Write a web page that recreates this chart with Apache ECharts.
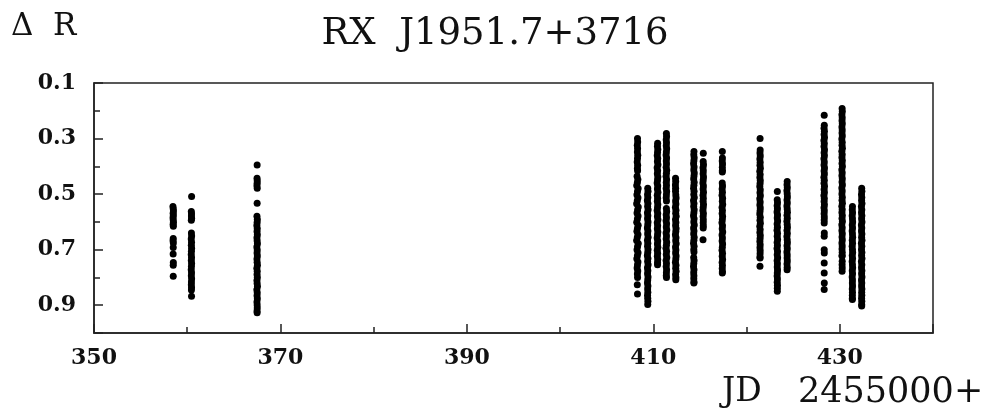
<!DOCTYPE html>
<html>
<head>
<meta charset="utf-8">
<script src="https://cdn.jsdelivr.net/npm/echarts@6/dist/echarts.min.js"></script>
<style>
  html, body { margin: 0; padding: 0; background: #fff; }
  #chart { width: 990px; height: 412px; }
</style>
</head>
<body>
<div id="chart"></div>
<script>
// Differential R photometry of RX J1951.7+3716, one array per observing night: [JD - 2455000, ΔR]
const night358 = [[358.47,0.545],[358.50,0.553],[358.52,0.561],[358.49,0.569],[358.51,0.577],[358.48,0.585],[358.50,0.593],[358.52,0.601],[358.49,0.609],[358.51,0.616],[358.50,0.660],[358.48,0.668],[358.51,0.676],[358.50,0.692],[358.49,0.716],[358.51,0.746],[358.50,0.756],[358.50,0.796]];
const night360 = [[360.47,0.509],[360.44,0.563],[360.46,0.571],[360.45,0.579],[360.47,0.587],[360.44,0.594],[360.45,0.640],[360.47,0.651],[360.43,0.662],[360.46,0.673],[360.44,0.684],[360.47,0.695],[360.45,0.706],[360.43,0.717],[360.46,0.728],[360.44,0.739],[360.47,0.750],[360.45,0.761],[360.43,0.772],[360.46,0.783],[360.44,0.794],[360.47,0.805],[360.45,0.816],[360.44,0.826],[360.46,0.836],[360.45,0.845],[360.46,0.868]];
const night367 = [[367.50,0.395],[367.49,0.443],[367.51,0.452],[367.50,0.461],[367.48,0.470],[367.51,0.479],[367.50,0.533],[367.48,0.580],[367.52,0.591],[367.50,0.602],[367.47,0.613],[367.51,0.624],[367.49,0.635],[367.52,0.646],[367.48,0.657],[367.50,0.668],[367.53,0.679],[367.47,0.690],[367.51,0.701],[367.49,0.712],[367.52,0.723],[367.48,0.734],[367.50,0.745],[367.53,0.756],[367.47,0.767],[367.51,0.778],[367.49,0.789],[367.52,0.800],[367.48,0.811],[367.50,0.822],[367.53,0.833],[367.47,0.844],[367.51,0.855],[367.49,0.866],[367.52,0.877],[367.48,0.888],[367.50,0.899],[367.51,0.910],[367.49,0.921],[367.50,0.927]];
const night408 = [[408.30,0.300],[408.32,0.312],[408.28,0.324],[408.31,0.336],[408.29,0.348],[408.33,0.360],[408.30,0.372],[408.27,0.384],[408.32,0.396],[408.29,0.408],[408.31,0.416],[408.26,0.436],[408.34,0.447],[408.29,0.458],[408.22,0.469],[408.37,0.480],[408.30,0.491],[408.24,0.502],[408.35,0.513],[408.28,0.524],[408.21,0.535],[408.38,0.546],[408.31,0.557],[408.25,0.568],[408.36,0.579],[408.29,0.590],[408.22,0.601],[408.37,0.612],[408.30,0.623],[408.24,0.634],[408.35,0.645],[408.28,0.656],[408.21,0.667],[408.38,0.678],[408.31,0.689],[408.25,0.700],[408.36,0.711],[408.29,0.722],[408.23,0.733],[408.35,0.744],[408.30,0.755],[408.26,0.766],[408.33,0.777],[408.29,0.788],[408.31,0.800],[408.28,0.826],[408.30,0.860]];
const night409 = [[409.40,0.479],[409.43,0.490],[409.38,0.501],[409.41,0.512],[409.36,0.523],[409.42,0.534],[409.39,0.545],[409.44,0.556],[409.37,0.567],[409.41,0.578],[409.38,0.589],[409.43,0.600],[409.40,0.611],[409.36,0.622],[409.42,0.633],[409.39,0.644],[409.44,0.655],[409.37,0.666],[409.41,0.677],[409.38,0.688],[409.43,0.699],[409.40,0.710],[409.36,0.721],[409.42,0.732],[409.39,0.743],[409.44,0.754],[409.37,0.765],[409.41,0.776],[409.38,0.787],[409.43,0.798],[409.40,0.809],[409.37,0.820],[409.42,0.831],[409.39,0.842],[409.41,0.853],[409.38,0.864],[409.40,0.875],[409.42,0.886],[409.40,0.897]];
const night410 = [[410.46,0.317],[410.44,0.328],[410.48,0.339],[410.45,0.350],[410.42,0.361],[410.47,0.372],[410.44,0.383],[410.49,0.394],[410.41,0.405],[410.46,0.416],[410.43,0.427],[410.48,0.438],[410.45,0.449],[410.41,0.460],[410.47,0.471],[410.44,0.482],[410.49,0.493],[410.42,0.504],[410.46,0.515],[410.43,0.526],[410.48,0.537],[410.45,0.548],[410.41,0.559],[410.47,0.570],[410.44,0.581],[410.49,0.592],[410.42,0.603],[410.46,0.614],[410.43,0.625],[410.48,0.636],[410.45,0.647],[410.41,0.658],[410.47,0.669],[410.44,0.680],[410.48,0.691],[410.42,0.702],[410.46,0.713],[410.43,0.724],[410.47,0.735],[410.45,0.746],[410.45,0.754]];
const night411 = [[411.40,0.282],[411.42,0.293],[411.38,0.304],[411.41,0.315],[411.39,0.326],[411.43,0.337],[411.40,0.348],[411.37,0.359],[411.42,0.370],[411.39,0.381],[411.41,0.392],[411.38,0.403],[411.43,0.414],[411.40,0.425],[411.37,0.436],[411.42,0.447],[411.39,0.458],[411.41,0.469],[411.38,0.480],[411.43,0.491],[411.40,0.502],[411.38,0.513],[411.41,0.525],[411.40,0.552],[411.43,0.563],[411.38,0.574],[411.41,0.585],[411.37,0.596],[411.42,0.607],[411.39,0.618],[411.44,0.629],[411.37,0.640],[411.41,0.651],[411.38,0.662],[411.43,0.673],[411.40,0.684],[411.36,0.695],[411.42,0.706],[411.39,0.717],[411.44,0.728],[411.37,0.739],[411.41,0.750],[411.38,0.761],[411.42,0.772],[411.40,0.783],[411.39,0.794],[411.41,0.800]];
const night412 = [[412.38,0.443],[412.40,0.455],[412.37,0.467],[412.39,0.479],[412.38,0.490],[412.41,0.503],[412.44,0.514],[412.39,0.525],[412.42,0.536],[412.37,0.547],[412.43,0.558],[412.40,0.569],[412.45,0.580],[412.38,0.591],[412.42,0.602],[412.39,0.613],[412.44,0.624],[412.41,0.635],[412.37,0.646],[412.43,0.657],[412.40,0.668],[412.45,0.679],[412.38,0.690],[412.42,0.701],[412.39,0.712],[412.44,0.723],[412.41,0.734],[412.37,0.745],[412.43,0.756],[412.40,0.767],[412.44,0.778],[412.39,0.789],[412.42,0.800],[412.41,0.808]];
const night414 = [[414.36,0.347],[414.34,0.358],[414.38,0.369],[414.35,0.380],[414.32,0.391],[414.37,0.402],[414.34,0.413],[414.39,0.424],[414.36,0.435],[414.33,0.446],[414.38,0.457],[414.35,0.468],[414.32,0.479],[414.37,0.490],[414.34,0.501],[414.39,0.512],[414.31,0.523],[414.36,0.534],[414.33,0.545],[414.38,0.556],[414.35,0.567],[414.31,0.578],[414.37,0.589],[414.34,0.600],[414.39,0.611],[414.32,0.622],[414.36,0.633],[414.33,0.644],[414.38,0.655],[414.35,0.666],[414.31,0.677],[414.37,0.688],[414.34,0.699],[414.36,0.708],[414.33,0.728],[414.37,0.739],[414.34,0.750],[414.31,0.761],[414.36,0.772],[414.33,0.783],[414.35,0.794],[414.34,0.805],[414.36,0.816],[414.35,0.820]];
const night415 = [[415.36,0.353],[415.35,0.383],[415.38,0.394],[415.33,0.405],[415.36,0.416],[415.34,0.427],[415.38,0.438],[415.35,0.449],[415.32,0.460],[415.37,0.471],[415.34,0.482],[415.38,0.493],[415.33,0.504],[415.36,0.515],[415.34,0.526],[415.38,0.537],[415.35,0.548],[415.32,0.559],[415.37,0.570],[415.34,0.581],[415.36,0.592],[415.35,0.603],[415.36,0.614],[415.35,0.622],[415.33,0.664]];
const night417 = [[417.40,0.347],[417.41,0.370],[417.39,0.381],[417.42,0.392],[417.40,0.403],[417.41,0.414],[417.40,0.420],[417.39,0.460],[417.42,0.471],[417.38,0.482],[417.41,0.493],[417.37,0.504],[417.43,0.515],[417.40,0.526],[417.44,0.537],[417.37,0.548],[417.41,0.559],[417.38,0.570],[417.43,0.581],[417.40,0.592],[417.36,0.603],[417.42,0.614],[417.39,0.625],[417.44,0.636],[417.37,0.647],[417.41,0.658],[417.38,0.669],[417.43,0.680],[417.40,0.691],[417.37,0.702],[417.42,0.713],[417.39,0.724],[417.43,0.735],[417.38,0.746],[417.41,0.757],[417.39,0.768],[417.41,0.779],[417.40,0.784]];
const night421 = [[421.45,0.300],[421.46,0.341],[421.44,0.352],[421.47,0.363],[421.43,0.374],[421.46,0.385],[421.44,0.396],[421.48,0.407],[421.42,0.418],[421.46,0.429],[421.43,0.440],[421.47,0.451],[421.45,0.462],[421.42,0.473],[421.47,0.484],[421.44,0.495],[421.48,0.506],[421.42,0.517],[421.46,0.528],[421.43,0.539],[421.47,0.550],[421.45,0.561],[421.42,0.572],[421.47,0.583],[421.44,0.594],[421.48,0.605],[421.42,0.616],[421.46,0.627],[421.43,0.638],[421.47,0.649],[421.45,0.660],[421.43,0.671],[421.46,0.682],[421.44,0.693],[421.46,0.704],[421.45,0.715],[421.44,0.726],[421.45,0.730],[421.44,0.760]];
const night423 = [[423.30,0.491],[423.29,0.520],[423.32,0.531],[423.28,0.542],[423.31,0.553],[423.27,0.564],[423.32,0.575],[423.29,0.586],[423.33,0.597],[423.28,0.608],[423.31,0.619],[423.27,0.630],[423.32,0.641],[423.29,0.652],[423.33,0.663],[423.28,0.674],[423.31,0.685],[423.27,0.696],[423.32,0.707],[423.29,0.718],[423.33,0.729],[423.28,0.740],[423.31,0.751],[423.29,0.762],[423.32,0.773],[423.30,0.784],[423.28,0.795],[423.31,0.806],[423.29,0.817],[423.31,0.828],[423.30,0.839],[423.30,0.850]];
const night424 = [[424.36,0.455],[424.34,0.466],[424.37,0.477],[424.33,0.488],[424.36,0.499],[424.38,0.510],[424.34,0.521],[424.37,0.532],[424.33,0.543],[424.36,0.554],[424.38,0.565],[424.34,0.576],[424.37,0.587],[424.33,0.598],[424.36,0.609],[424.38,0.620],[424.34,0.631],[424.37,0.642],[424.33,0.653],[424.36,0.664],[424.38,0.675],[424.34,0.686],[424.37,0.697],[424.33,0.708],[424.36,0.719],[424.35,0.730],[424.37,0.741],[424.34,0.752],[424.36,0.763],[424.35,0.772]];
const night428 = [[428.33,0.216],[428.34,0.252],[428.31,0.263],[428.35,0.274],[428.32,0.285],[428.36,0.296],[428.30,0.307],[428.34,0.318],[428.31,0.329],[428.36,0.340],[428.32,0.351],[428.35,0.362],[428.30,0.373],[428.34,0.384],[428.31,0.395],[428.36,0.406],[428.32,0.417],[428.35,0.428],[428.30,0.439],[428.34,0.450],[428.31,0.461],[428.36,0.472],[428.32,0.483],[428.35,0.494],[428.30,0.505],[428.34,0.516],[428.32,0.527],[428.35,0.538],[428.31,0.549],[428.34,0.560],[428.32,0.571],[428.34,0.582],[428.33,0.593],[428.33,0.604],[428.34,0.640],[428.33,0.652],[428.33,0.700],[428.34,0.712],[428.33,0.748],[428.33,0.784],[428.34,0.820],[428.33,0.843]];
const night430 = [[430.25,0.192],[430.27,0.203],[430.23,0.214],[430.26,0.225],[430.24,0.236],[430.27,0.247],[430.23,0.258],[430.26,0.269],[430.24,0.280],[430.27,0.291],[430.22,0.302],[430.26,0.313],[430.24,0.324],[430.28,0.335],[430.22,0.346],[430.26,0.357],[430.23,0.368],[430.27,0.379],[430.24,0.390],[430.28,0.401],[430.22,0.412],[430.26,0.423],[430.23,0.434],[430.27,0.445],[430.24,0.456],[430.28,0.467],[430.22,0.478],[430.26,0.489],[430.23,0.500],[430.27,0.511],[430.24,0.522],[430.28,0.533],[430.22,0.544],[430.26,0.555],[430.23,0.566],[430.27,0.577],[430.24,0.588],[430.28,0.599],[430.22,0.610],[430.26,0.621],[430.23,0.632],[430.27,0.643],[430.24,0.654],[430.27,0.665],[430.23,0.676],[430.26,0.687],[430.24,0.698],[430.26,0.709],[430.25,0.720],[430.25,0.724],[430.26,0.742],[430.25,0.754],[430.26,0.766],[430.25,0.778]];
const night431 = [[431.36,0.545],[431.34,0.556],[431.37,0.567],[431.33,0.578],[431.36,0.589],[431.38,0.600],[431.34,0.611],[431.37,0.622],[431.33,0.633],[431.36,0.644],[431.38,0.655],[431.34,0.666],[431.37,0.677],[431.33,0.688],[431.36,0.699],[431.38,0.710],[431.34,0.721],[431.37,0.732],[431.33,0.743],[431.36,0.754],[431.38,0.765],[431.34,0.776],[431.37,0.787],[431.33,0.798],[431.36,0.809],[431.35,0.820],[431.37,0.831],[431.34,0.842],[431.36,0.853],[431.35,0.864],[431.35,0.875],[431.35,0.879]];
const night432 = [[432.35,0.479],[432.37,0.490],[432.33,0.501],[432.36,0.512],[432.34,0.523],[432.38,0.534],[432.32,0.545],[432.36,0.556],[432.33,0.567],[432.37,0.578],[432.34,0.589],[432.38,0.600],[432.32,0.611],[432.36,0.622],[432.33,0.633],[432.37,0.644],[432.34,0.655],[432.38,0.666],[432.32,0.677],[432.36,0.688],[432.33,0.699],[432.37,0.710],[432.34,0.721],[432.38,0.732],[432.32,0.743],[432.36,0.754],[432.33,0.765],[432.37,0.776],[432.34,0.787],[432.38,0.798],[432.33,0.809],[432.36,0.820],[432.34,0.831],[432.37,0.842],[432.35,0.853],[432.36,0.864],[432.34,0.875],[432.36,0.886],[432.35,0.897],[432.35,0.903]];

const nights = [night358, night360, night367, night408, night409, night410, night411, night412,
                night414, night415, night417, night421, night423, night424, night428, night430,
                night431, night432];

// Axis ranges and labelled ticks
const jdMin = 350, jdMax = 440, jdMajor = 20, jdMinor = 10;
const dRMin = 0.1, dRMax = 1.0, dRMajor = 0.2, dRMinor = 0.1;

const titleText = 'RX  J1951.7+3716';
const yName = 'Δ  R';
const xNameLeft = 'JD';
const xNameRight = '2455000+';

const serif = '"DejaVu Serif", "Liberation Serif", serif';
const ink = '#111';
const frame = { color: '#222', width: 1.5 };

const chart = echarts.init(document.getElementById('chart'), null, { renderer: 'canvas' });

const points = [].concat(...nights);

chart.setOption({
  animation: false,
  backgroundColor: '#fff',
  grid: {
    left: 94, right: 57, top: 83, bottom: 79,
    show: true, borderColor: frame.color, borderWidth: frame.width, backgroundColor: 'transparent'
  },
  graphic: [
    { type: 'text', left: 11, top: 11,
      style: { text: yName, font: '31px ' + serif, fill: ink } },
    { type: 'text', left: 'center', top: 16,
      style: { text: titleText, font: '37px ' + serif, fill: ink } },
    { type: 'text', left: 722, top: 376,
      style: { text: xNameLeft, font: '33px ' + serif, fill: ink } },
    { type: 'text', left: 798, top: 375,
      style: { text: xNameRight, font: '35px ' + serif, fill: ink } }
  ],
  xAxis: [
    {
      type: 'value', min: jdMin, max: jdMax, interval: jdMajor, position: 'bottom',
      axisLine: { show: true, lineStyle: frame },
      axisTick: { show: true, inside: true, length: 9, lineStyle: frame },
      axisLabel: {
        show: true, margin: 14, color: ink, fontFamily: serif, fontSize: 22, fontWeight: 'bold',
        formatter: v => (v > jdMax - jdMinor / 2 ? '' : String(Math.round(v)))
      },
      splitLine: { show: false }
    },
    {
      type: 'value', min: jdMin, max: jdMax, interval: jdMinor, position: 'bottom',
      axisLine: { show: false },
      axisTick: { show: true, inside: true, length: 6, lineStyle: frame },
      axisLabel: { show: false },
      splitLine: { show: false }
    }
  ],
  yAxis: [
    {
      type: 'value', inverse: true, min: dRMin, max: dRMax, interval: dRMajor, position: 'left',
      axisLine: { show: true, lineStyle: frame },
      axisTick: { show: true, inside: true, length: 9, lineStyle: frame },
      axisLabel: {
        show: true, margin: 18, color: ink, fontFamily: serif, fontSize: 22, fontWeight: 'bold',
        formatter: v => (v > dRMax - dRMinor / 2 ? '' : v.toFixed(1))
      },
      splitLine: { show: false }
    },
    {
      type: 'value', inverse: true, min: dRMin, max: dRMax, interval: dRMinor, position: 'left',
      axisLine: { show: false },
      axisTick: { show: true, inside: true, length: 6, lineStyle: frame },
      axisLabel: { show: false },
      splitLine: { show: false }
    }
  ],
  series: [{
    type: 'scatter',
    xAxisIndex: 0, yAxisIndex: 0,
    data: points,
    symbol: 'circle',
    symbolSize: 7,
    itemStyle: { color: '#000', opacity: 1 },
    silent: true
  }]
});
</script>
</body>
</html>
